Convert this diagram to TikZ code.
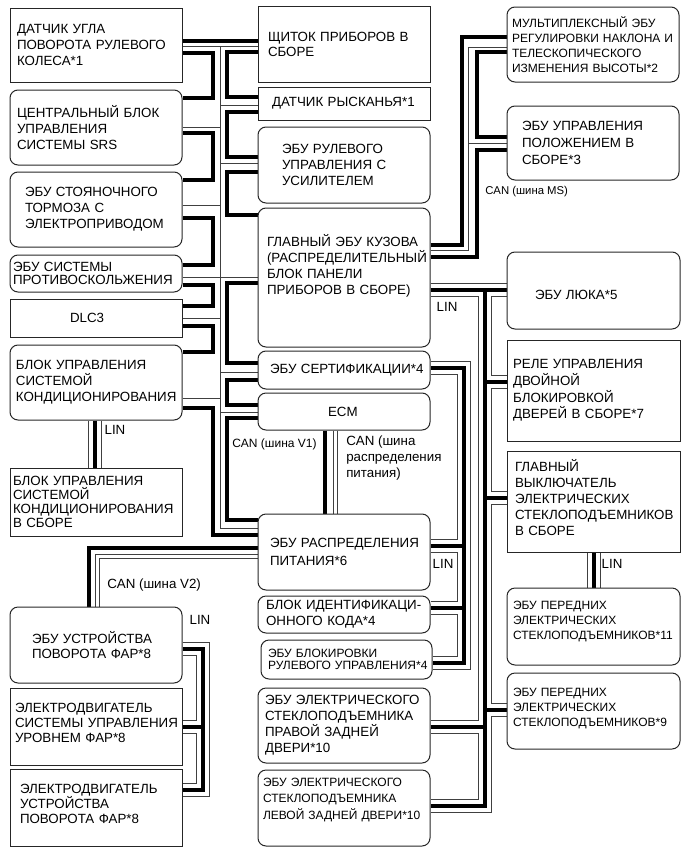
\documentclass[tikz,border=0pt]{standalone}
\usepackage{fontspec}
\setmainfont{Liberation Sans}
\pgfdeclarelayer{bg}
\pgfsetlayers{bg,main}
\newcommand\fs[2]{\fontsize{#1pt}{#2pt}\selectfont}
\newcommand\mybox[8]{%
  \pgfmathsetmacro\mbW{(#4-#2)*0.75}%
  \pgfmathsetmacro\mbH{(#5-#3)*0.75}%
  \pgfmathsetmacro\mbT{(#4-#2-2*#7)*0.75}%
  \pgfmathsetmacro\mbX{(#2+#4)/2}%
  \pgfmathsetmacro\mbY{(#3+#5)/2}%
  \node[#6, minimum width=\mbW pt, minimum height=\mbH pt, text width=\mbT pt, align=left] (#1) at (\mbX,\mbY) {#8};}
\newcommand\linpaths{%
 (L6.south -| 95,0) -- (L7.north -| 95,0)
 (R5.south -| 594,0) -- (R6.north -| 594,0)
 (B1.east |- 0,649) -- (203,649) -- (203,790) -- (B3.east |- 0,790)
 (B2.east |- 0,727) -- (203,727)
 (M4.east |- 0,290) -- (R3.west |- 0,290)
 (485,290) -- (485,806) -- (M11.east |- 0,806)
 (R4.west |- 0,382) -- (485,382)
 (R5.west |- 0,498) -- (485,498)
 (R7.west |- 0,710) -- (485,710)
 (M10.east |- 0,727) -- (485,727)
 (M5.east |- 0,368) -- (464,368) -- (464,663) -- (M9.east |- 0,663)
 (M7.east |- 0,546) -- (464,546)
 (M8.east |- 0,608) -- (464,608)
}
\begin{document}
\begin{tikzpicture}[x=0.75pt,y=-0.75pt,
  box/.style={draw=black!85, line width=0.75pt, inner sep=0pt, font=\fs{10}{12}},
  rbox/.style={box, rounded corners=6pt},
  thk/.style={line width=2.6pt, draw=black},
  thn/.style={line width=0.7pt, draw=black!75},
  lab/.style={inner sep=0pt, font=\fs{10}{12}}]
\useasboundingbox (0,0) rectangle (689,853);

% left column
\mybox{L1}{10}{8}{182}{82}{box}{7}{ДАТЧИК~УГЛА\\ПОВОРОТА~РУЛЕВОГО\\КОЛЕСА*1}
\mybox{L2}{10}{90}{182}{165}{rbox}{7}{ЦЕНТРАЛЬНЫЙ~БЛОК\\УПРАВЛЕНИЯ\\СИСТЕМЫ~SRS}
\mybox{L3}{10}{172}{182}{247}{rbox}{15}{ЭБУ~СТОЯНОЧНОГО\\ТОРМОЗА~С\\ЭЛЕКТРОПРИВОДОМ}
\mybox{L4}{10}{255}{182}{292}{rbox, font=\fs{10}{10}}{3}{ЭБУ~СИСТЕМЫ\\ПРОТИВОСКОЛЬЖЕНИЯ}
\mybox{L5}{10}{299}{182}{337}{box}{60}{DLC3}
\mybox{L6}{10}{345}{182}{420}{rbox}{6}{БЛОК~УПРАВЛЕНИЯ\\СИСТЕМОЙ\\КОНДИЦИОНИРОВАНИЯ}
\mybox{L7}{10}{468}{182}{536}{box, font=\fs{10}{10.5}}{3}{БЛОК~УПРАВЛЕНИЯ\\СИСТЕМОЙ\\КОНДИЦИОНИРОВАНИЯ\\В~СБОРЕ}
% middle column
\mybox{M1}{258}{6}{430}{82}{box, font=\fs{10}{11.25}}{10}{ЩИТОК~ПРИБОРОВ~В\\СБОРЕ}
\mybox{M2}{258}{87}{430}{120}{box}{14}{ДАТЧИК~РЫСКАНЬЯ*1}
\mybox{M3}{258}{127}{430}{203}{rbox}{24}{ЭБУ~РУЛЕВОГО\\УПРАВЛЕНИЯ~С\\УСИЛИТЕЛЕМ}
\mybox{M4}{258}{208}{430}{347}{rbox, text depth=56pt}{9}{ГЛАВНЫЙ~ЭБУ~КУЗОВА\\(РАСПРЕДЕЛИТЕЛЬНЫЙ\\БЛОК~ПАНЕЛИ\\ПРИБОРОВ~В~СБОРЕ)}
\mybox{M5}{258}{351}{430}{389}{rbox}{12}{ЭБУ~СЕРТИФИКАЦИИ*4}
\mybox{M6}{258}{393}{430}{430}{rbox}{70}{ECM}
\mybox{M7}{258}{514}{430}{590}{rbox, font=\fs{10}{13}}{12}{ЭБУ~РАСПРЕДЕЛЕНИЯ\\ПИТАНИЯ*6}
\mybox{M8}{258}{596}{430}{633}{rbox}{8}{БЛОК~\mbox{ИДЕНТИФИКАЦИ-}\\ОННОГО~КОДА*4}
\mybox{M9}{261}{640}{432}{679}{rbox, font=\fs{9}{9.5}}{7}{ЭБУ~БЛОКИРОВКИ\\РУЛЕВОГО~УПРАВЛЕНИЯ*4}
\mybox{M10}{258}{688}{430}{763}{rbox}{7}{ЭБУ~ЭЛЕКТРИЧЕСКОГО\\СТЕКЛОПОДЪЕМНИКА\\ПРАВОЙ~ЗАДНЕЙ\\ДВЕРИ*10}
\mybox{M11}{258}{770}{430}{846}{rbox, font=\fs{9}{12.5}, text depth=38.8pt}{5}{ЭБУ~ЭЛЕКТРИЧЕСКОГО\\СТЕКЛОПОДЪЕМНИКА\\ЛЕВОЙ~ЗАДНЕЙ~ДВЕРИ*10}
% right column
\mybox{R1}{507}{7}{679}{82}{rbox, font=\fs{9}{11.25}}{5}{МУЛЬТИПЛЕКСНЫЙ~ЭБУ\\РЕГУЛИРОВКИ~НАКЛОНА~И\\ТЕЛЕСКОПИЧЕСКОГО\\ИЗМЕНЕНИЯ~ВЫСОТЫ*2}
\mybox{R2}{507}{106}{679}{180}{rbox, font=\fs{10}{12.5}}{15}{ЭБУ~УПРАВЛЕНИЯ\\ПОЛОЖЕНИЕМ~В\\СБОРЕ*3}
\mybox{R3}{507}{252}{680}{329}{rbox, text height=13pt}{28}{ЭБУ~ЛЮКА*5}
\mybox{R4}{507}{340}{680}{441}{box, font=\fs{10}{12.5}}{6}{РЕЛЕ~УПРАВЛЕНИЯ\\ДВОЙНОЙ\\БЛОКИРОВКОЙ\\ДВЕРЕЙ~В~СБОРЕ*7}
\mybox{R5}{507}{451}{680}{552}{box, text depth=54pt}{8}{ГЛАВНЫЙ\\ВЫКЛЮЧАТЕЛЬ\\ЭЛЕКТРИЧЕСКИХ\\СТЕКЛОПОДЪЕМНИКОВ\\В~СБОРЕ}
\mybox{R6}{507}{588}{680}{665}{rbox, font=\fs{9}{11.25}, text depth=31.5pt}{6}{ЭБУ~ПЕРЕДНИХ\\ЭЛЕКТРИЧЕСКИХ\\СТЕКЛОПОДЪЕМНИКОВ*11}
\mybox{R7}{507}{673}{680}{749}{rbox, font=\fs{9}{11.25}, text depth=28.5pt}{6}{ЭБУ~ПЕРЕДНИХ\\ЭЛЕКТРИЧЕСКИХ\\СТЕКЛОПОДЪЕМНИКОВ*9}
% bottom left
\mybox{B1}{10}{607}{182}{683}{rbox, font=\fs{10}{11.25}}{22}{ЭБУ~УСТРОЙСТВА\\ПОВОРОТА~ФАР*8}
\mybox{B2}{10}{688}{182}{765}{box, font=\fs{10}{11.25}, text depth=28.5pt}{5}{ЭЛЕКТРОДВИГАТЕЛЬ\\СИСТЕМЫ~УПРАВЛЕНИЯ\\УРОВНЕМ~ФАР*8}
\mybox{B3}{10}{769}{182}{846}{box, font=\fs{10}{11.25}, text depth=28.5pt}{10}{ЭЛЕКТРОДВИГАТЕЛЬ\\УСТРОЙСТВА\\ПОВОРОТА~ФАР*8}

% labels
\node[lab] (linA) at (115,430) {LIN};
\node[lab] (linB) at (612,564) {LIN};
\node[lab] (linC) at (200,620) {LIN};
\node[lab] (linD) at (447,307) {LIN};
\node[lab] (linE) at (443,564) {LIN};
\node[lab, anchor=west, font=\fs{8.5}{10}] (canMS) at (485,192) {CAN (шина MS)};
\node[lab, anchor=west, font=\fs{9}{11}] (canV1) at (232,444) {CAN (шина V1)};
\node[lab, anchor=north west, align=left] (canPD) at (346,436) {CAN (шина\\распределения\\питания)};
\node[lab, anchor=west] (canV2) at (107,585) {CAN (шина V2)};

\begin{pgfonlayer}{bg}
% CAN V1 thick daisy chain
\draw[thk] (M7.west |- 0,535) -| (213,408) -- (L6.east |- 0,408);
\draw[thk] (L6.east |- 0,352) -| (213,326) -- (L5.east |- 0,326);
\draw[thk] (L5.east |- 0,306) -| (213,285) -- (L4.east |- 0,285);
\draw[thk] (L4.east |- 0,265) -| (213,218) -- (L3.east |- 0,218);
\draw[thk] (L3.east |- 0,180) -| (213,133) -- (L2.east |- 0,133);
\draw[thk] (L2.east |- 0,98) -| (213,53) -- (L1.east |- 0,53);
\draw[thk] (L1.east |- 0,41) -- (M1.west |- 0,41);
\draw[thk] (M1.west |- 0,52) -| (227,97) -- (M2.west |- 0,97);
\draw[thk] (M2.west |- 0,112) -| (227,157) -- (M3.west |- 0,157);
\draw[thk] (M3.west |- 0,172) -| (227,215) -- (M4.west |- 0,215);
\draw[thk] (M4.west |- 0,283) -| (227,363) -- (M5.west |- 0,363);
\draw[thk] (M5.west |- 0,380) -| (227,405) -- (M6.west |- 0,405);
\draw[thk] (M6.west |- 0,418) -| (227,520) -- (M7.west |- 0,520);
% CAN V1 thin comb
\draw[thn] (L1.east |- 0,46) -- (M1.west |- 0,46);
\draw[thn] (220,46) |- (M7.west |- 0,528);
\draw[thn] (L2.east |- 0,127) -- (220,127);
\draw[thn] (L3.east |- 0,205) -- (220,205);
\draw[thn] (L4.east |- 0,277) -- (M4.west |- 0,277);
\draw[thn] (L5.east |- 0,318) -- (220,318);
\draw[thn] (L6.east |- 0,398) -- (220,398);
\draw[thn] (220,105) -- (M2.west |- 0,105);
\draw[thn] (220,163) -- (M3.west |- 0,163);
\draw[thn] (220,372) -- (M5.west |- 0,372);
\draw[thn] (220,412) -- (M6.west |- 0,412);
% CAN MS
\draw[thk] (M4.east |- 0,245) -| (462,37) -- (R1.west |- 0,37);
\draw[thk] (R1.west |- 0,52) -| (477,137) -- (R2.west |- 0,137);
\draw[thk] (R2.west |- 0,150) -| (477,257) -- (M4.east |- 0,257);
\draw[thn] (M4.east |- 0,250) -| (468,47) -- (R1.west |- 0,47);
\draw[thn] (468,143) -- (R2.west |- 0,143);
% CAN power distribution
\draw[thk] (M6.south -| 325,0) -- (M7.north -| 325,0);
\draw[thn] (M6.south -| 333,0) -- (M7.north -| 333,0);
\draw[thn] (M6.south -| 337,0) -- (M7.north -| 337,0);
% CAN V2
\draw[thk] (M7.west |- 0,548) -| (B1.north -| 89,0);
\draw[thn] (M7.west |- 0,554) -| (B1.north -| 95,0);
\draw[thn] (M7.west |- 0,558) -| (B1.north -| 99,0);
% LIN cables
\draw[line width=10pt, black!75] \linpaths;
\draw[line width=8.8pt, white] \linpaths;
\draw[line width=2.6pt] \linpaths;
\end{pgfonlayer}
\end{tikzpicture}
\end{document}
